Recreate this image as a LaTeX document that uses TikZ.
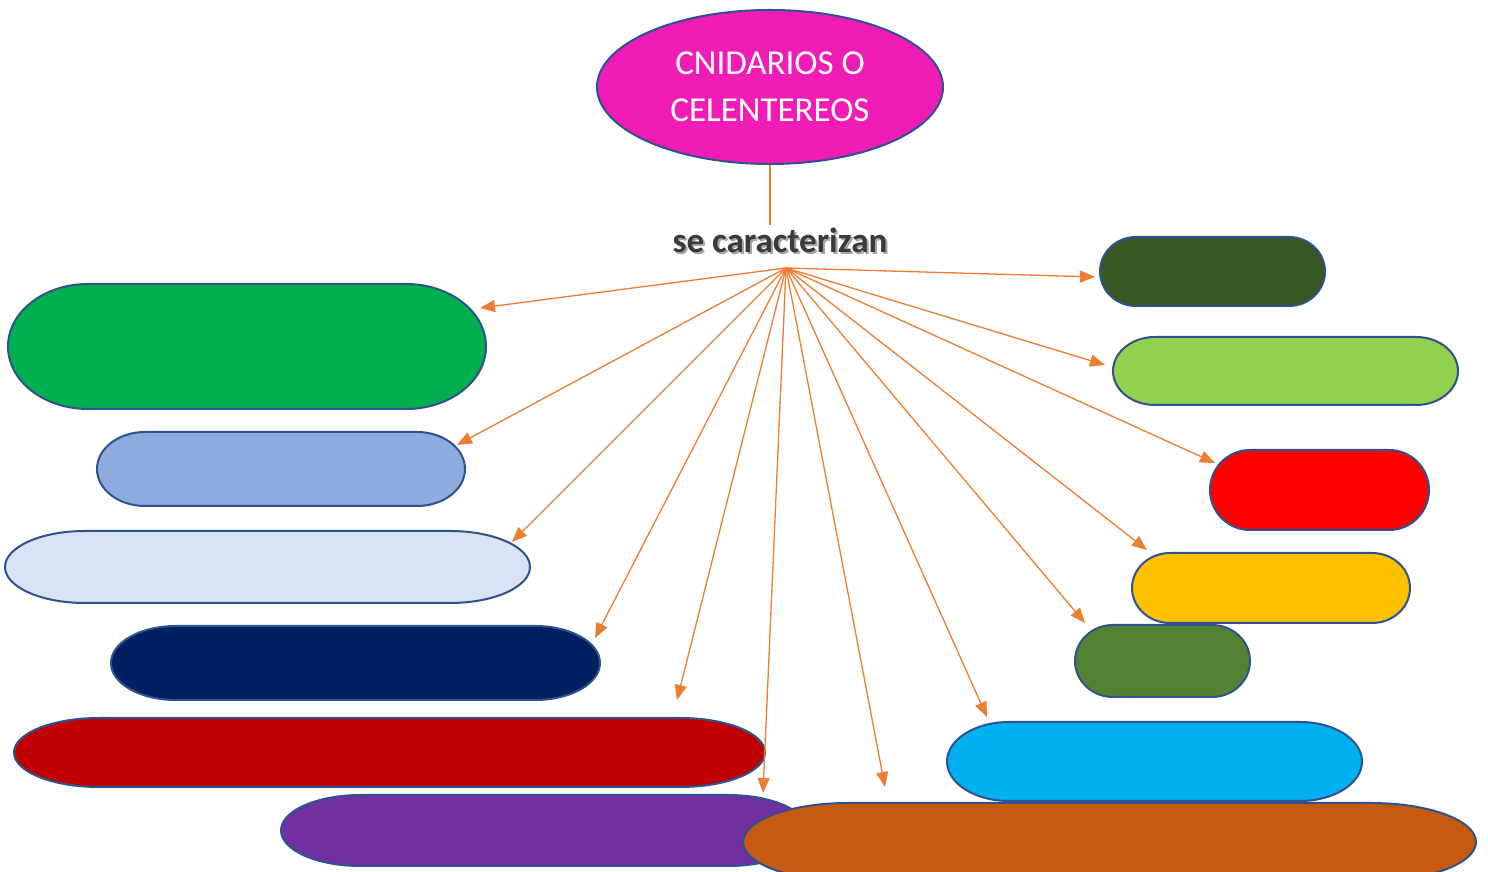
\documentclass[tikz,border=0pt]{standalone}
\usepackage{fontspec}
\setmainfont{Carlito}
\usetikzlibrary{arrows.meta,shapes.geometric}
\definecolor{outl}{HTML}{2F528F}
\definecolor{arrc}{HTML}{ED7D31}
\definecolor{cmag}{HTML}{EF1CB5}
\definecolor{cA}{HTML}{00B050}
\definecolor{cB}{HTML}{8FAADC}
\definecolor{cC}{HTML}{DAE3F3}
\definecolor{cD}{HTML}{002060}
\definecolor{cE}{HTML}{C00000}
\definecolor{cF}{HTML}{7030A0}
\definecolor{cG}{HTML}{C55A11}
\definecolor{cH}{HTML}{385723}
\definecolor{cI}{HTML}{92D050}
\definecolor{cJ}{HTML}{FF0000}
\definecolor{cK}{HTML}{FFC000}
\definecolor{cL}{HTML}{548235}
\definecolor{cM}{HTML}{00B0F0}
\definecolor{lbltext}{HTML}{3A3A3A}
\definecolor{lblshade}{HTML}{A6A6A6}
\tikzset{
  blobline/.style={draw=outl, line width=2pt},
  link/.style={draw=arrc, line width=1.3pt, -{Triangle[length=15pt,width=12pt]}},
  stem/.style={draw=arrc, line width=1.3pt},
  lblfont/.style={font=\fontsize{35}{40}\selectfont\bfseries, inner sep=2pt}
}
\newcommand\drawblob[7]{%
  \pgfmathsetmacro\bYt{872-#3}%
  \pgfmathsetmacro\bYb{872-#5}%
  \pgfmathsetmacro\bRy{(#5-#3)/2}%
  \path[blobline, fill=#7] ({#2+#6},\bYt) -- ({#4-#6},\bYt)
    arc[start angle=90,end angle=-90,x radius=#6pt,y radius=\bRy pt]
    -- ({#2+#6},\bYb)
    arc[start angle=270,end angle=90,x radius=#6pt,y radius=\bRy pt] -- cycle;
  \coordinate (#1) at ({(#2+#4)/2},{872-(#3+#5)/2});%
}
\begin{document}
\begin{tikzpicture}[x=1pt,y=1pt]
\useasboundingbox[fill=white] (0,0) rectangle (1488,872);

% left column
\drawblob{bA}{8}{284}{486}{409}{80}{cA}
\drawblob{bB}{97}{432}{465}{506}{48}{cB}
\drawblob{bC}{5}{531}{530}{603}{80}{cC}
\drawblob{bD}{111}{626}{600}{700}{65}{cD}
\drawblob{bE}{14}{718}{765}{787}{85}{cE}
\drawblob{bF}{281}{795}{808}{866}{80}{cF}
\drawblob{bG}{743}{803}{1476}{881}{105}{cG}
% right column
\drawblob{bH}{1100}{237}{1325}{306}{36}{cH}
\drawblob{bI}{1113}{337}{1458}{405}{42}{cI}
\drawblob{bJ}{1210}{450}{1429}{530}{40}{cJ}
\drawblob{bK}{1132}{553}{1410}{623}{38}{cK}
\drawblob{bL}{1075}{625}{1250}{697}{38}{cL}
\drawblob{bM}{947}{722}{1362}{801}{62}{cM}

% top ellipse
\node[ellipse, draw=outl, line width=2pt, fill=cmag, minimum width=346pt,
      minimum height=154pt, text=white, align=center,
      font=\fontsize{35}{47}\selectfont] (top) at (770,{872-87})
      {CNIDARIOS O\\CELENTEREOS};

% label with shadow
\node[lblfont, text=lblshade] (lblshadow) at (782,{872-242.5}) {se caracterizan};
\node[lblfont, text=lbltext] (lbl) at (780,{872-240}) {se caracterizan};

\draw[stem] (top.south) -- (top.south |- lbl.north);

% hub and arrow ends
\coordinate (hub) at (786,{872-268});
\coordinate (tA) at (480,{872-308});
\coordinate (tB) at (457,{872-445});
\coordinate (tC) at (512,{872-542});
\coordinate (tD) at (595,{872-638});
\coordinate (tE) at (677,{872-700});
\coordinate (tF) at (763,{872-793});
\coordinate (tG) at (885,{872-787});
\coordinate (tM) at (987,{872-717});
\coordinate (tL) at (1085,{872-623});
\coordinate (tK) at (1147,{872-550});
\coordinate (tJ) at (1215,{872-463});
\coordinate (tI) at (1105,{872-365});
\coordinate (tH) at (1095,{872-277});

\foreach \t in {tA,tB,tC,tD,tE,tF,tG,tM,tL,tK,tJ,tI,tH}
  \draw[link] (hub) -- (\t);
\end{tikzpicture}
\end{document}
